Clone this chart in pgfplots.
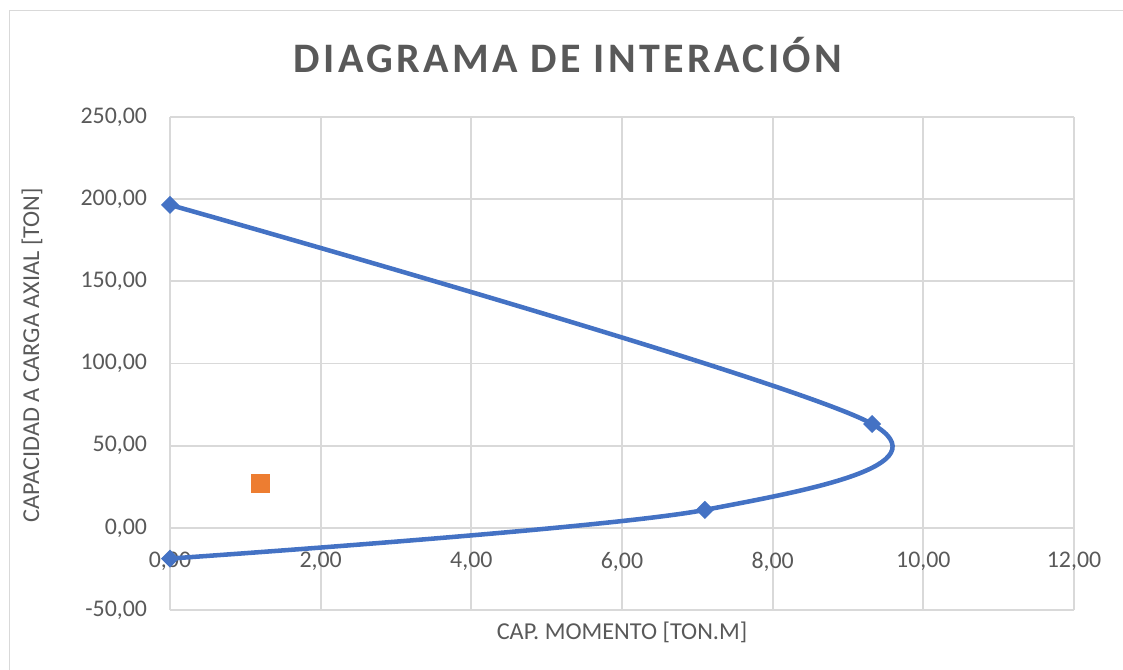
\documentclass[border=0pt]{standalone}
\usepackage{fontspec}
\setmainfont{Carlito}
\usepackage{pgfplots}
\pgfplotsset{compat=1.18}
\definecolor{serblue}{HTML}{4472C4}
\definecolor{serorange}{HTML}{ED7D31}
\definecolor{gridgray}{HTML}{D9D9D9}
\definecolor{txtgray}{HTML}{595959}
\begin{document}
\begin{tikzpicture}[x=1pt,y=1pt]
\begin{axis}[
  at={(127.5pt,45pt)}, anchor=south west,
  scale only axis,
  width=678pt, height=369.75pt,
  xmin=0, xmax=12, ymin=-50, ymax=250,
  xtick={0,2,...,12}, ytick={-50,0,...,250},
  axis line style={draw=none},
  major tick length=0pt,
  grid=major,
  grid style={gridgray, line width=1.3pt},
  /pgf/number format/.cd, fixed, fixed zerofill, precision=2, use comma, assume math mode=true,
  /pgfplots/.cd,
  ticklabel style={font=\fontsize{17.9}{21}\selectfont, text=txtgray},
  xticklabel style={inner sep=0pt, anchor=north, yshift=43.5pt},
  yticklabel style={inner sep=0pt, xshift=-17pt},
  xlabel={CAP. MOMENTO [TON.M]},
  ylabel={CAPACIDAD A CARGA AXIAL [TON]},
  label style={font=\fontsize{18.2}{21}\selectfont, text=txtgray},
  xlabel style={at={(axis description cs:0.5,-0.0457)}, anchor=center, inner sep=0pt},
  ylabel style={at={(axis description cs:-0.1527,0.517)}, anchor=center, inner sep=0pt},
  clip=false,
]
\addplot[serblue, line width=3.4pt, smooth, tension=0.5,
  mark=square*, mark size=4.3pt, mark options={rotate=45, serblue, line width=1pt}]
  coordinates {(0,196.5) (9.32,63.2) (7.10,10.9) (0,-18.7)};
\addplot[only marks, mark=square*, mark size=6.75pt, color=serorange]
  coordinates {(1.2,27.2)};
\end{axis}
\useasboundingbox (0,0) rectangle (842.25pt,502.5pt);
\draw[gridgray, line width=1.3pt] (7.1pt,0) -- (7.1pt,494.6pt) -- (842.25pt,494.6pt);
\node[font=\bfseries\fontsize{31.5}{36}\selectfont\addfontfeatures{LetterSpace=8}, text=txtgray] at (426pt,461pt) {DIAGRAMA DE INTERACIÓN};
\end{tikzpicture}
\end{document}
